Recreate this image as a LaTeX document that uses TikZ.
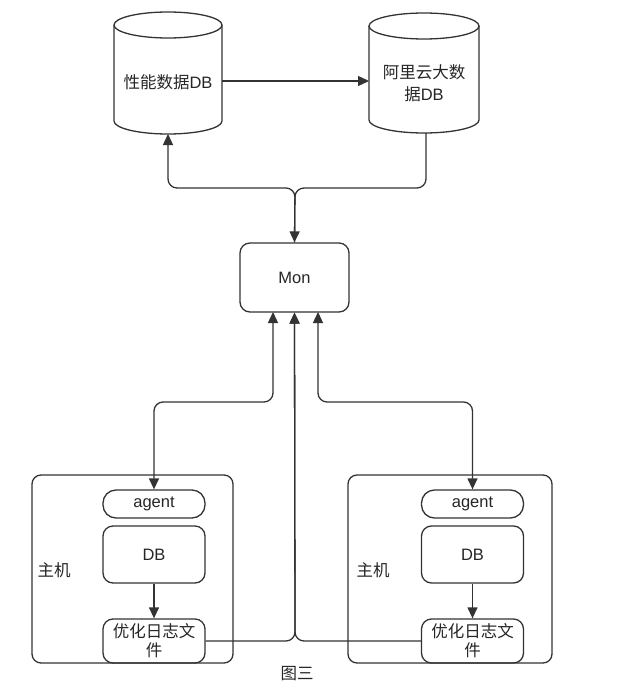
\documentclass[tikz,border=0pt]{standalone}
\usepackage{fontspec}
\setmainfont{Liberation Sans}
\newfontfamily\cjk{Noto Sans CJK SC}
\usetikzlibrary{arrows.meta}
\begin{document}
\begin{tikzpicture}[x=1pt,y=1pt,
  line width=1.3pt,
  every node/.style={font=\fontsize{16.5}{22}\selectfont, text=black!85},
  ln/.style={draw=black!80, line width=1.3pt},
  arr/.style={ln, -{Triangle[length=11pt,width=10pt]}},
  darr/.style={ln, {Triangle[length=11pt,width=10pt]}-{Triangle[length=11pt,width=10pt]}},
  rbox/.style={draw=black!80, line width=1.3pt, rounded corners=10pt, inner sep=0pt},
  pill/.style={draw=black!80, line width=1.3pt, rounded corners=13pt, inner sep=0pt},
  host/.style={draw=black!80, line width=1.3pt, rounded corners=9pt, inner sep=0pt},
  lbl/.style={inner sep=0pt, align=center}
]
\useasboundingbox[fill=white] (0,0) rectangle (622,-690);

% cylinders
\draw[ln] (168,-25) ellipse [x radius=54, y radius=13];
\draw[ln] (114,-25) -- (114,-121) arc[start angle=180, end angle=360, x radius=54, y radius=13] -- (222,-25);
\node[lbl] (perf) at (168,-82) {{\cjk 性能数据}DB};
\coordinate (perfS) at (168,-134);
\coordinate (perfE) at (222,-81);

\draw[ln] (424,-26) ellipse [x radius=55, y radius=13];
\draw[ln] (369,-26) -- (369,-120) arc[start angle=180, end angle=360, x radius=55, y radius=13] -- (479,-26);
\node[lbl] (ali) at (424,-83) {{\cjk 阿里云大数}\\{\cjk 据}DB};
\coordinate (aliS) at (426,-133);
\coordinate (aliW) at (369,-81);

\draw[arr] (perfE) -- (aliW);

% Mon
\node[rbox, minimum width=109pt, minimum height=69pt] (mon) at (294.5,-277.5) {Mon};

\draw[arr, rounded corners=9pt] (aliS) -- (426,-188) -- (295,-188) -- (mon.north);
\draw[arr, rounded corners=9pt] (mon.north) -- (295,-188) -- (168,-188) -- (perfS);

% hosts
\node[host, minimum width=201pt, minimum height=188pt] (hostL) at (132.5,-569) {};
\node[host, minimum width=204pt, minimum height=188pt] (hostR) at (450,-569) {};
\node[lbl] (zjL) at (54,-570) {\cjk 主机};
\node[lbl] (zjR) at (373,-570) {\cjk 主机};

\node[pill, minimum width=102pt, minimum height=28pt] (agL) at (154,-504) {agent};
\node[rbox, minimum width=102pt, minimum height=57pt] (dbL) at (154,-554.5) {DB};
\node[rbox, minimum width=102pt, minimum height=44pt, align=center, font=\fontsize{16.5}{19}\selectfont] (logL) at (154,-641) {\cjk 优化日志文\\\cjk 件};

\node[pill, minimum width=102pt, minimum height=28pt] (agR) at (472.5,-504) {agent};
\node[rbox, minimum width=102pt, minimum height=57pt] (dbR) at (472.5,-554.5) {DB};
\node[rbox, minimum width=102pt, minimum height=44pt, align=center, font=\fontsize{16.5}{19}\selectfont] (logR) at (472.5,-641) {\cjk 优化日志文\\\cjk 件};

\draw[arr] (dbL) -- (logL);
\draw[arr] (dbR) -- (logR);

% connectors to Mon
\draw[darr, rounded corners=9pt] (agL.north) -- (154,-402) -- (273,-402) -- (273,-312);
\draw[darr, rounded corners=9pt] (agR.north) -- (472.5,-402) -- (318,-402) -- (318,-312);
\draw[arr, rounded corners=9pt] (logL.east) -- (295,-641) -- (mon.south);
\draw[arr, rounded corners=9pt] (logR.west) -- (295,-641) -- (mon.south);

\node[lbl] (cap) at (297,-674) {\cjk 图三};
\end{tikzpicture}
\end{document}
